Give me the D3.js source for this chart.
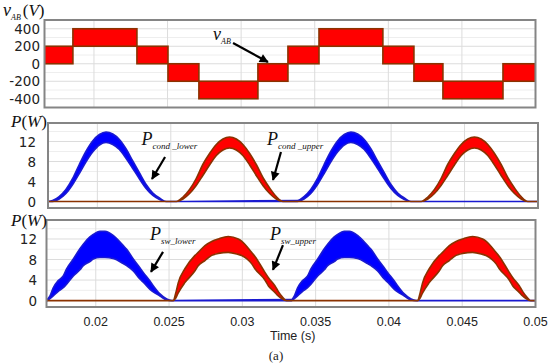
<!DOCTYPE html>
<html><head><meta charset="utf-8">
<script src="https://cdn.jsdelivr.net/npm/d3@7"></script>
<style>body{margin:0;background:#fff}svg{display:block}</style>
</head><body>
<svg id="c" width="550" height="364"></svg>
<script>
// ---------- DATA ----------
const timeDomain = [0.01664, 0.05];
const xTicks = [0.02, 0.025, 0.03, 0.035, 0.04, 0.045, 0.05];
const xTickLabels = ["0.02", "0.025", "0.03", "0.035", "0.04", "0.045", "0.05"];
const vTicks = [400, 200, 0, -200, -400];
const vMinor = [300, 100, -100, -300];
const pTicks = [0, 4, 8, 12];
const pMinor = [2, 6, 10, 14];

// v_AB staircase segments: [t start, t end, low V, high V]
const vabSegments = [
  [0.01664, 0.01857, 0, 200],
  [0.01857, 0.02292, 200, 400],
  [0.02292, 0.02503, 0, 200],
  [0.02503, 0.02713, -200, 0],
  [0.02713, 0.03114, -400, -200],
  [0.03114, 0.03318, -200, 0],
  [0.03318, 0.03529, 0, 200],
  [0.03529, 0.03963, 200, 400],
  [0.03963, 0.04174, 0, 200],
  [0.04174, 0.04371, -200, 0],
  [0.04371, 0.04779, -400, -200],
  [0.04779, 0.05, -200, 0]
];

// band series: [t, low W, high W]
const condLower = [
  [0.01664,0,0],[0.01695,0,0.2],[0.0174,0.5,1.0],[0.01786,1.6,2.4],[0.01832,3.4,4.6],
  [0.01877,5.6,7.4],[0.01922,7.9,10.0],[0.01968,9.9,12.1],[0.02014,11.3,13.4],[0.02059,11.8,13.9],
  [0.02105,11.4,13.5],[0.0215,10.4,12.4],[0.02196,8.6,10.5],[0.02241,6.6,8.1],[0.02287,4.5,5.7],
  [0.02332,2.6,3.4],[0.02378,1.2,1.7],[0.02423,0.4,0.7],[0.02468,0,0],
  [0.03362,0,0.2],[0.03407,0.5,1.0],[0.03453,1.6,2.4],[0.03499,3.4,4.6],
  [0.03544,5.6,7.4],[0.03589,7.9,10.0],[0.03635,9.9,12.1],[0.03681,11.3,13.4],[0.03726,11.8,13.9],
  [0.03772,11.4,13.5],[0.03817,10.4,12.4],[0.03863,8.6,10.5],[0.03908,6.6,8.1],[0.03954,4.5,5.7],
  [0.03999,2.6,3.4],[0.04045,1.2,1.7],[0.0409,0.4,0.7],[0.04135,0,0],[0.05,0,0]
];
const condUpper = [
  [0.01664,0,0],[0.02537,0,0],[0.02583,0.5,0.9],[0.02628,1.6,2.4],[0.02673,3.2,4.6],[0.02718,5.2,7.4],
  [0.02764,7.3,9.6],[0.0281,9.2,11.4],[0.02855,10.3,12.5],[0.029,10.7,12.9],[0.02946,10.3,12.5],
  [0.02991,9.2,11.4],[0.03037,7.3,9.6],[0.03082,5.2,7.4],[0.03127,3.2,4.8],[0.03173,1.6,2.7],
  [0.03218,0.5,1.0],[0.03264,0,0],
  [0.04204,0,0],[0.0425,0.5,0.9],[0.04295,1.6,2.4],[0.0434,3.2,4.6],[0.04385,5.2,7.4],
  [0.04431,7.3,9.6],[0.04477,9.2,11.4],[0.04522,10.3,12.5],[0.04567,10.7,12.9],[0.04613,10.3,12.5],
  [0.04658,9.2,11.4],[0.04704,7.3,9.6],[0.04749,5.2,7.4],[0.04794,3.2,4.8],[0.0484,1.6,2.7],
  [0.04885,0.5,1.0],[0.04931,0,0],[0.05,0,0]
];
const swLower = [
  [0.01664,0,0],[0.01669,0,0.2],[0.01688,0.4,0.9],[0.0171,0.9,2.5],[0.01744,1.8,3.9],[0.01778,2.5,4.8],
  [0.01801,3.2,6.2],[0.01847,4.8,8.1],[0.01892,6.0,10.1],[0.01915,6.8,11.0],[0.0196,7.6,12.4],
  [0.01983,8.1,12.9],[0.02029,8.4,13.5],[0.02063,8.4,13.5],[0.02119,8.2,12.7],[0.02188,7.2,10.7],
  [0.02211,6.8,10.0],[0.02256,5.8,8.1],[0.02301,4.2,6.4],[0.02324,3.6,5.5],[0.0237,2.2,3.8],
  [0.02392,1.7,2.9],[0.02438,0.9,1.3],[0.02484,0.1,0.3],[0.02518,0,0],
  [0.03336,0,0.2],[0.03355,0.4,0.9],[0.03377,0.9,2.5],[0.03411,1.8,3.9],[0.03445,2.5,4.8],
  [0.03468,3.2,6.2],[0.03514,4.8,8.1],[0.03559,6.0,10.1],[0.03582,6.8,11.0],[0.03627,7.6,12.4],
  [0.0365,8.1,12.9],[0.03696,8.4,13.5],[0.0373,8.4,13.5],[0.03786,8.2,12.7],[0.03855,7.2,10.7],
  [0.03878,6.8,10.0],[0.03923,5.8,8.1],[0.03968,4.2,6.4],[0.03991,3.6,5.5],[0.04037,2.2,3.8],
  [0.04059,1.7,2.9],[0.04105,0.9,1.3],[0.04151,0.1,0.3],[0.04185,0,0],[0.05,0,0]
];
const swUpper = [
  [0.01664,0,0],[0.02529,0,0],[0.02546,0.5,1.5],[0.02563,1.5,3.5],[0.02608,3.5,6.2],[0.02677,5.8,8.8],
  [0.02699,6.8,9.4],[0.02745,7.8,10.7],[0.02791,8.8,11.5],[0.02836,9.2,12.0],[0.02904,9.4,12.5],
  [0.02972,9.0,12.0],[0.02995,8.8,11.6],[0.03063,7.2,9.4],[0.03086,6.2,8.6],[0.03154,4.0,5.5],
  [0.03177,2.9,4.5],[0.03222,1.6,2.9],[0.03245,0.9,1.8],[0.03268,0.4,0.9],[0.03302,0,0],
  [0.04196,0,0],[0.04213,0.5,1.5],[0.0423,1.5,3.5],[0.04275,3.5,6.2],[0.04344,5.8,8.8],
  [0.04366,6.8,9.4],[0.04412,7.8,10.7],[0.04458,8.8,11.5],[0.04503,9.2,12.0],[0.04571,9.4,12.5],
  [0.04639,9.0,12.0],[0.04662,8.8,11.6],[0.0473,7.2,9.4],[0.04753,6.2,8.6],[0.04821,4.0,5.5],
  [0.04844,2.9,4.5],[0.04889,1.6,2.9],[0.04912,0.9,1.8],[0.04935,0.4,0.9],[0.04969,0,0],[0.05,0,0]
];

// annotations in data units: panel, main letter, subscript, text (t,v), arrow from (t,v) to (t,v)
const annotations = [
  {panel:"top", main:"v", sub:"AB", t:0.02809, v:271, a:[0.02945,237,0.03182,20]},
  {panel:"mid", main:"P", sub:"cond _lower", t:0.0230, v:11.3, a:[0.02461,8.9,0.02372,4.5]},
  {panel:"mid", main:"P", sub:"cond _upper", t:0.03155, v:11.3, a:[0.0325,9.9,0.03196,4.3]},
  {panel:"bot", main:"P", sub:"sw_lower", t:0.0237, v:11.8, a:[0.02459,9.5,0.02377,5.6]},
  {panel:"bot", main:"P", sub:"sw_upper", t:0.03189, v:11.8, a:[0.03277,10.8,0.03209,6.0]}
];

// ---------- LAYOUT ----------
const svg = d3.select("#c");
const panelDefs = {
  top: {xr:[44.5,535.5], yr:[107.5,20], dom:[-500,500], ticks:vTicks, minor:vMinor, labX:40},
  mid: {xr:[48,538], yr:[208,123], dom:[-1.3,15.7], ticks:pTicks, minor:pMinor, labX:36},
  bot: {xr:[46.5,535.5], yr:[307,220], dom:[-1.25,15.7], ticks:pTicks, minor:pMinor, labX:37}
};
const P = {};
Object.entries(panelDefs).forEach(([k,d]) => {
  P[k] = {
    d,
    x: d3.scaleLinear().domain(timeDomain).range(d.xr),
    y: d3.scaleLinear().domain(d.dom).range(d.yr)
  };
});

const defs = svg.append("defs");
Object.entries(P).forEach(([k,p]) => {
  defs.append("clipPath").attr("id","clip-"+k).append("rect")
    .attr("x",p.d.xr[0]).attr("y",p.d.yr[1])
    .attr("width",p.d.xr[1]-p.d.xr[0]).attr("height",p.d.yr[0]-p.d.yr[1]);
});
defs.append("marker").attr("id","arr").attr("viewBox","0 0 10 10")
  .attr("refX",9).attr("refY",5).attr("markerWidth",10).attr("markerHeight",9)
  .attr("markerUnits","userSpaceOnUse").attr("orient","auto")
  .append("path").attr("d","M0,0L10,5L0,10z").attr("fill","#000");

// grids
Object.entries(P).forEach(([k,p]) => {
  const g = svg.append("g");
  g.selectAll(".mn").data(p.d.minor).join("line")
    .attr("x1",p.d.xr[0]).attr("x2",p.d.xr[1])
    .attr("y1",v=>p.y(v)).attr("y2",v=>p.y(v))
    .attr("stroke","#eeeeee").attr("stroke-width",1);
  g.selectAll(".mj").data(p.d.ticks).join("line")
    .attr("x1",p.d.xr[0]).attr("x2",p.d.xr[1])
    .attr("y1",v=>p.y(v)).attr("y2",v=>p.y(v))
    .attr("stroke","#dcdcdc").attr("stroke-width",1);
  g.selectAll(".vx").data(xTicks.slice(0,-1)).join("line")
    .attr("x1",t=>p.x(t)).attr("x2",t=>p.x(t))
    .attr("y1",p.d.yr[1]).attr("y2",p.d.yr[0])
    .attr("stroke","#dcdcdc").attr("stroke-width",1);
  // y tick labels
  svg.append("g").selectAll("text").data(p.d.ticks).join("text")
    .attr("x",p.d.labX).attr("y",v=>p.y(v)+5)
    .attr("text-anchor","end")
    .attr("font-family","DejaVu Sans, sans-serif").attr("font-size",13.5)
    .attr("fill","#222").text(v=>v);
});

// top panel: v_AB
(function(){
  const p = P.top;
  svg.append("g").attr("clip-path","url(#clip-top)")
    .selectAll("rect").data(vabSegments).join("rect")
    .attr("x",d=>p.x(d[0])).attr("width",d=>p.x(d[1])-p.x(d[0]))
    .attr("y",d=>p.y(d[3])).attr("height",d=>p.y(d[2])-p.y(d[3]))
    .attr("fill","#ff0000").attr("stroke","#8b3200").attr("stroke-width",1.6);
})();

function band(panelKey, data, fill, stroke, sw){
  const p = P[panelKey];
  const area = d3.area().x(d=>p.x(d[0])).y0(d=>p.y(d[1])).y1(d=>p.y(d[2]))
    .curve(d3.curveMonotoneX);
  svg.append("g").attr("clip-path","url(#clip-"+panelKey+")")
    .append("path").datum(data).attr("d",area)
    .attr("fill",fill).attr("stroke",stroke).attr("stroke-width",sw)
    .attr("stroke-linejoin","round");
}
band("mid", condLower, "#0000ff", "#1a1ad0", 1.6);
band("mid", condUpper, "#ff0000", "#8b3200", 1.6);
band("bot", swLower, "#0000ff", "#1a1ad0", 1.6);
band("bot", swUpper, "#ff0000", "#8b3200", 1.6);

// frames
Object.values(P).forEach(p => {
  svg.append("rect").attr("x",p.d.xr[0]).attr("y",p.d.yr[1])
    .attr("width",p.d.xr[1]-p.d.xr[0]).attr("height",p.d.yr[0]-p.d.yr[1])
    .attr("fill","none").attr("stroke","#858585").attr("stroke-width",2);
});

// x tick labels
svg.append("g").selectAll("text").data(xTicks).join("text")
  .attr("x",t=>P.bot.x(t)).attr("y",326)
  .attr("text-anchor","middle")
  .attr("font-family","Liberation Sans, Arial, sans-serif").attr("font-size",12.5)
  .attr("fill","#222").text((t,i)=>xTickLabels[i]);
svg.append("text").attr("x",270).attr("y",340)
  .attr("font-family","Liberation Sans, Arial, sans-serif").attr("font-size",12.5)
  .attr("fill","#222").text("Time (s)");
svg.append("text").attr("x",276).attr("y",360).attr("text-anchor","middle")
  .attr("font-family","Liberation Serif, serif").attr("font-size",13)
  .attr("fill","#222").text("(a)");

// axis titles
const serif = "Liberation Serif, Times New Roman, serif";
(function(){
  const t = svg.append("text").attr("x",3).attr("y",16).attr("font-family",serif).attr("fill","#111");
  t.append("tspan").attr("font-style","italic").attr("font-size",18).text("v");
  t.append("tspan").attr("font-style","italic").attr("font-size",8).attr("dy",4).text("AB");
  t.append("tspan").attr("font-size",17).attr("dy",-4).attr("dx",2).text("(");
  t.append("tspan").attr("font-size",17).attr("font-style","italic").text("V");
  t.append("tspan").attr("font-size",17).text(")");
})();
[["mid",127],["bot",226]].forEach(([k,y]) => {
  const t = svg.append("text").attr("x",11).attr("y",y).attr("font-family",serif)
    .attr("font-size",17).attr("fill","#111");
  t.append("tspan").attr("font-style","italic").text("P");
  t.append("tspan").text("(");
  t.append("tspan").attr("font-style","italic").text("W");
  t.append("tspan").text(")");
});

// annotations
annotations.forEach(a => {
  const p = P[a.panel];
  svg.append("line")
    .attr("x1",p.x(a.a[0])).attr("y1",p.y(a.a[1]))
    .attr("x2",p.x(a.a[2])).attr("y2",p.y(a.a[3]))
    .attr("stroke","#000").attr("stroke-width",2.2).attr("marker-end","url(#arr)");
  const t = svg.append("text").attr("x",p.x(a.t)).attr("y",p.y(a.v))
    .attr("font-family",serif).attr("font-style","italic").attr("fill","#111");
  t.append("tspan").attr("font-size",18).text(a.main);
  t.append("tspan").attr("font-size",a.main==="v"?8:9).attr("dy",4).text(a.sub);
});
</script>
</body></html>
